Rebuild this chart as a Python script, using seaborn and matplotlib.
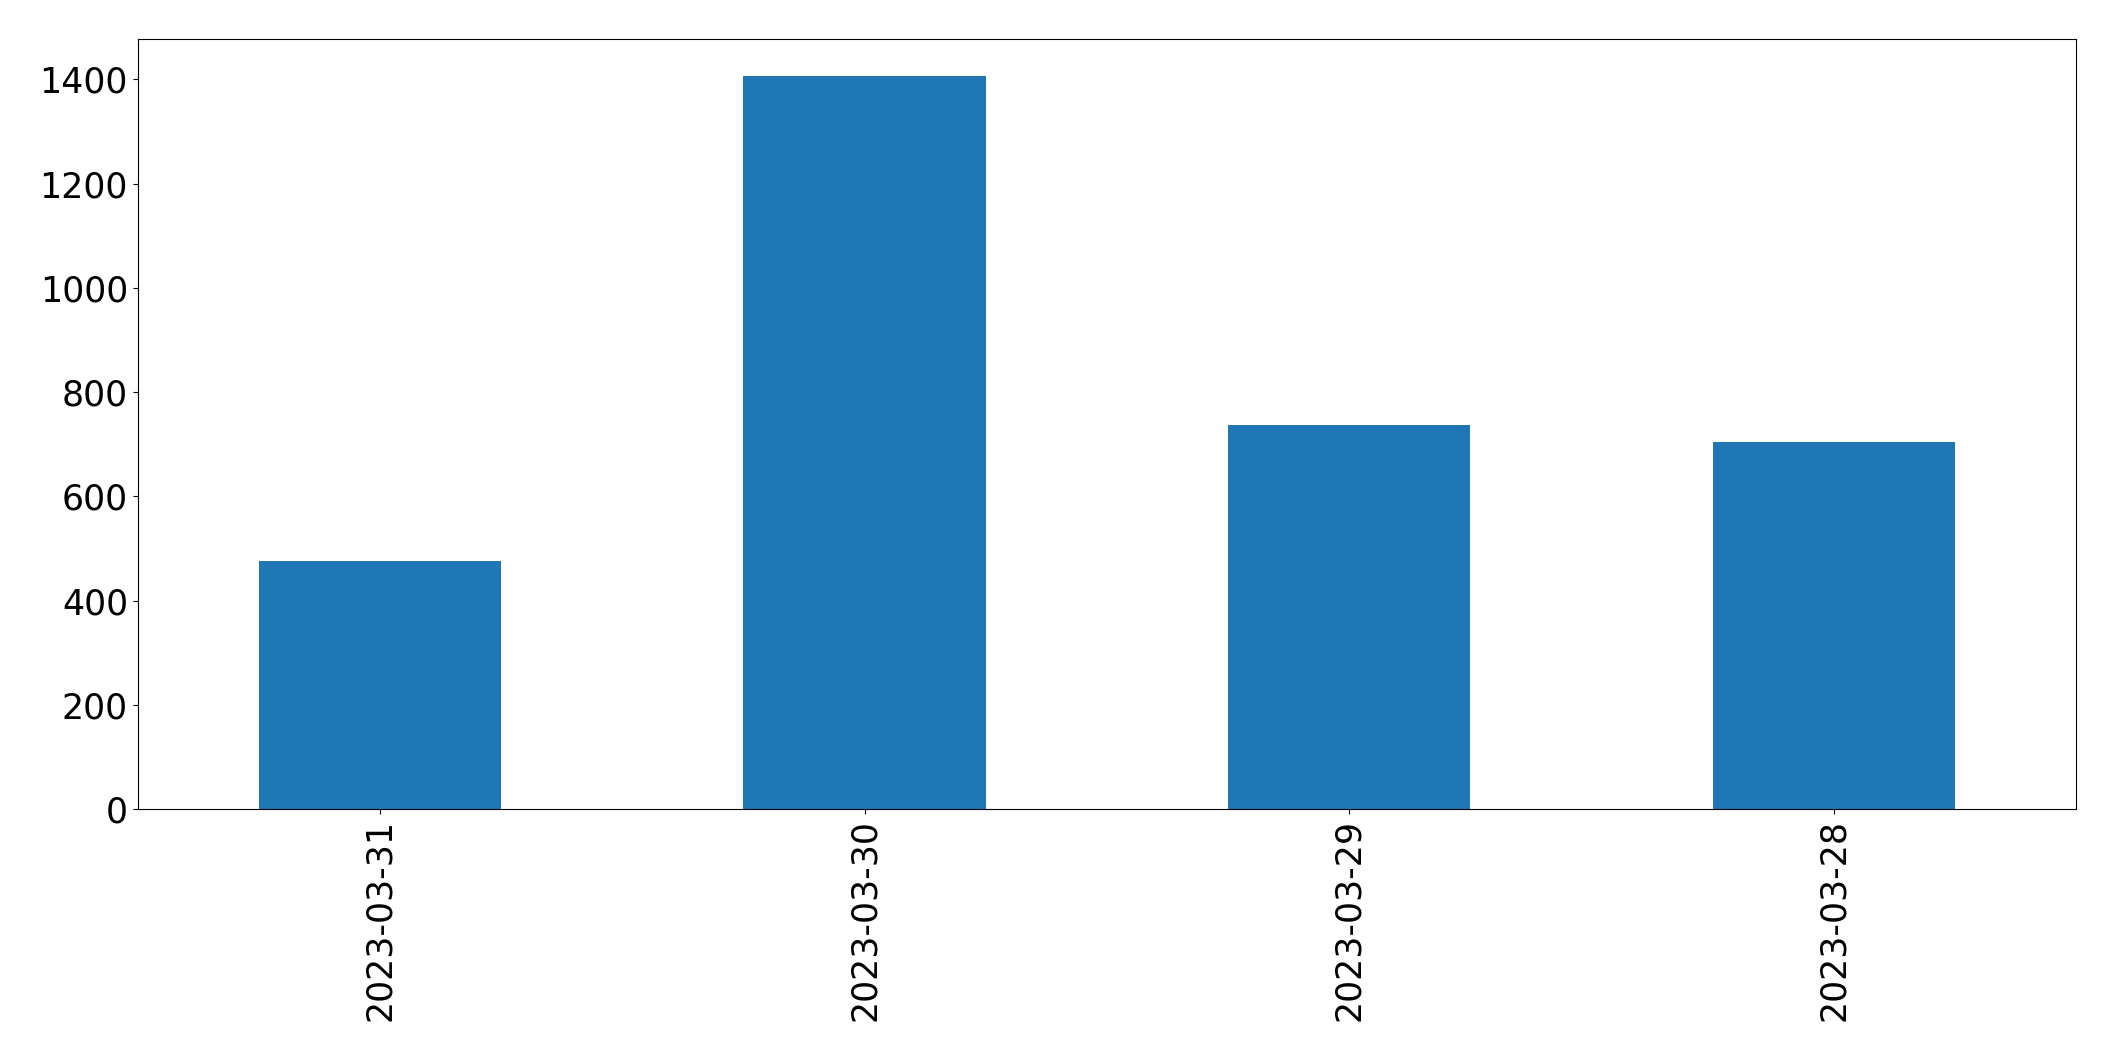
import matplotlib
matplotlib.use("Agg")
import matplotlib.pyplot as plt
import seaborn as sns
import pandas as pd

dates = ["2023-03-31", "2023-03-30", "2023-03-29", "2023-03-28"]
counts = [476, 1407, 736, 704]

df = pd.DataFrame({"date": dates, "count": counts})

fig, ax = plt.subplots(figsize=(21.15, 10.61), dpi=100)
fig.subplots_adjust(left=0.0651, right=0.9816, top=0.9632, bottom=0.2375)

sns.barplot(data=df, x="date", y="count", order=dates, color="#1f77b4",
            saturation=1, width=0.5, linewidth=0, ax=ax)

ax.set_xlabel("")
ax.set_ylabel("")
ax.tick_params(axis="both", labelsize=25, color="black", labelcolor="black")
ax.tick_params(axis="x", labelrotation=90)
for s in ax.spines.values():
    s.set_visible(True)
    s.set_color("black")
ax.set_facecolor("white")

fig.savefig("out.png", dpi=100, facecolor="white")
